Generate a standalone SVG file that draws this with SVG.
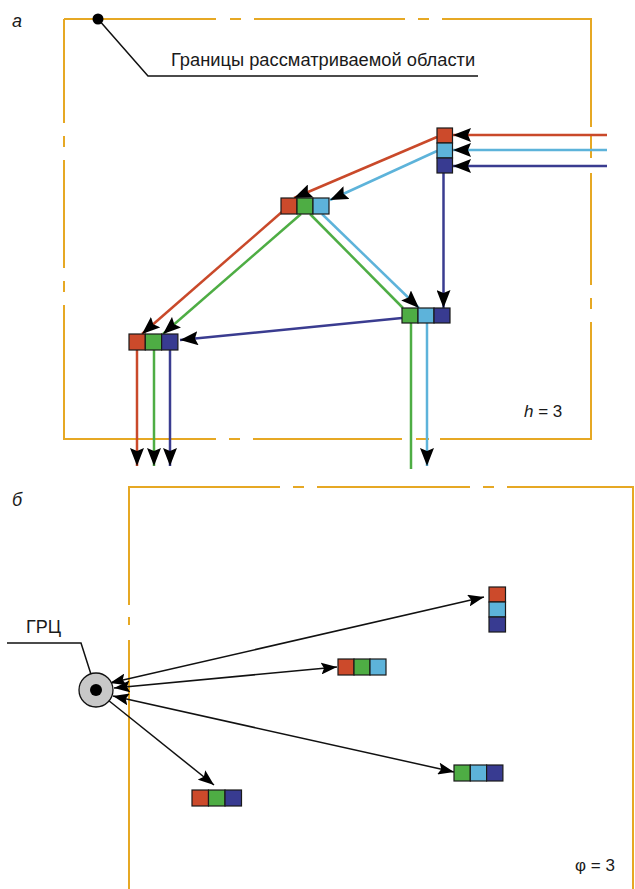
<svg xmlns="http://www.w3.org/2000/svg" width="635" height="889" viewBox="0 0 635 889">
<style>
.frame{fill:none;stroke:#E6A824;stroke-width:2}
.sq{stroke:#1a1a1a;stroke-width:1.2}
.r{fill:#CC4A2B}.g{fill:#4EAD44}.lb{fill:#5DB3DA}.db{fill:#383B91}
.ln{fill:none;stroke-width:2.5}
.lr{stroke:#C9492A}.lg{stroke:#4EAD44}.llb{stroke:#5DB3DA}.ldb{stroke:#3A3C90}
.bk{fill:none;stroke:#111;stroke-width:1.5}
.t{font-family:"Liberation Sans",Arial,sans-serif;fill:#1a1a1a}
</style>
<defs>
<marker id="ah" viewBox="0 0 18 14" refX="18" refY="7" markerWidth="18" markerHeight="14" markerUnits="userSpaceOnUse" orient="auto">
<path d="M0,0 L18,7 L0,14 L3,7 z" fill="#000"/>
</marker>
<marker id="ah2" viewBox="0 0 16 12" refX="16" refY="6" markerWidth="16" markerHeight="12" markerUnits="userSpaceOnUse" orient="auto-start-reverse">
<path d="M0,0 L16,6 L0,12 L3,6 z" fill="#000"/>
</marker>
</defs>

<g id="frame-a">
<path class="frame" d="M64,19 H216 M230,19 H241 M254,19 H405 M418,19 H429 M442,19 H591 V127 M591,135 V158 M591,173 V285 M591,298 V309 M591,322 V439 H440 M429,439 H416 M402,439 H253 M240,439 H229 M216,439 H64 V305 M64,292 V281 M64,268 V160 M64,147 V136 M64,123 V19"/>
</g>
<g id="frame-b">
<path class="frame" d="M129,889 V640 M129,625 V617 M129,605 V487 H280 M293,487 H304 M317,487 H470 M483,487 H494 M507,487 H633 V889"/>
</g>

<g id="labels">
<text class="t" x="12" y="27" font-size="18" font-style="italic">а</text>
<text class="t" x="12" y="506" font-size="18" font-style="italic">б</text>
<text class="t" x="171" y="66" font-size="18.3">Границы рассматриваемой области</text>
<text class="t" x="524" y="417" font-size="17"><tspan font-style="italic">h</tspan> = 3</text>
<text class="t" x="575" y="871" font-size="17">φ = 3</text>
<text class="t" x="26" y="633" font-size="18">ГРЦ</text>
</g>

<g id="leaders">
<polyline class="bk" points="98,19 148,76 478,76" stroke-width="1.3"/>
<circle cx="98" cy="19" r="5.5" fill="#000"/>
<polyline class="bk" points="7,643 81,643 96,690" stroke-width="1.3"/>
</g>

<g id="connectors-a">
<line class="ln lr" x1="607" y1="135" x2="453" y2="135" marker-end="url(#ah)"/>
<line class="ln llb" x1="607" y1="150" x2="453" y2="150" marker-end="url(#ah)"/>
<line class="ln ldb" x1="607" y1="166" x2="453" y2="166" marker-end="url(#ah)"/>
<line class="ln lr" x1="437" y1="137" x2="294" y2="198" marker-end="url(#ah)"/>
<line class="ln llb" x1="437" y1="151" x2="330" y2="200" marker-end="url(#ah)"/>
<line class="ln lr" x1="283" y1="211" x2="142" y2="334" marker-end="url(#ah)"/>
<line class="ln lg" x1="301" y1="214" x2="163" y2="334" marker-end="url(#ah)"/>
<line class="ln lg" x1="310" y1="214" x2="403" y2="308"/>
<line class="ln llb" x1="322" y1="214" x2="419" y2="308" marker-end="url(#ah)"/>
<line class="ln ldb" x1="443.5" y1="173" x2="443.5" y2="308" marker-end="url(#ah)"/>
<line class="ln ldb" x1="402" y1="318" x2="180" y2="340" marker-end="url(#ah)"/>
<line class="ln lr" x1="137" y1="350" x2="137" y2="466" marker-end="url(#ah)"/>
<line class="ln lg" x1="154" y1="350" x2="154" y2="466" marker-end="url(#ah)"/>
<line class="ln ldb" x1="170" y1="350" x2="170" y2="466" marker-end="url(#ah)"/>
<line class="ln lg" x1="411" y1="323" x2="411" y2="469"/>
<line class="ln llb" x1="427" y1="323" x2="427" y2="466" marker-end="url(#ah)"/>
</g>

<g id="node-a1">
<rect class="sq r" x="437" y="128" width="15.5" height="15"/>
<rect class="sq lb" x="437" y="143" width="15.5" height="15"/>
<rect class="sq db" x="437" y="158" width="15.5" height="15"/>
</g>
<g id="node-a2">
<rect class="sq r" x="281" y="198" width="16" height="16"/>
<rect class="sq g" x="297" y="198" width="16" height="16"/>
<rect class="sq lb" x="313" y="198" width="16" height="16"/>
</g>
<g id="node-a3">
<rect class="sq g" x="402" y="308" width="16" height="15"/>
<rect class="sq lb" x="418" y="308" width="16" height="15"/>
<rect class="sq db" x="434" y="308" width="16" height="15"/>
</g>
<g id="node-a4">
<rect class="sq r" x="129" y="334" width="16.3" height="16"/>
<rect class="sq g" x="145.3" y="334" width="16.3" height="16"/>
<rect class="sq db" x="161.6" y="334" width="16.3" height="16"/>
</g>

<g id="connectors-b">
<line class="bk" x1="110" y1="683" x2="484" y2="597" marker-start="url(#ah2)" marker-end="url(#ah2)"/>
<line class="bk" x1="114" y1="688" x2="337" y2="667" marker-start="url(#ah2)" marker-end="url(#ah2)"/>
<line class="bk" x1="113" y1="696" x2="454" y2="772" marker-start="url(#ah2)" marker-end="url(#ah2)"/>
<line class="bk" x1="108" y1="700" x2="214" y2="785" marker-end="url(#ah2)"/>
</g>

<g id="node-grc">
<circle cx="96" cy="690" r="17" fill="#C8C8C8" stroke="#111" stroke-width="1.3"/>
<circle cx="96" cy="690" r="6" fill="#000"/>
</g>
<g id="node-b1">
<rect class="sq r" x="489" y="587" width="16.5" height="15"/>
<rect class="sq lb" x="489" y="602" width="16.5" height="15"/>
<rect class="sq db" x="489" y="617" width="16.5" height="15"/>
</g>
<g id="node-b2">
<rect class="sq r" x="338" y="659" width="16" height="16"/>
<rect class="sq g" x="354" y="659" width="16" height="16"/>
<rect class="sq lb" x="370" y="659" width="16" height="16"/>
</g>
<g id="node-b3">
<rect class="sq g" x="454" y="765" width="16.3" height="16"/>
<rect class="sq lb" x="470.3" y="765" width="16.3" height="16"/>
<rect class="sq db" x="486.6" y="765" width="16.3" height="16"/>
</g>
<g id="node-b4">
<rect class="sq r" x="192" y="790" width="16.5" height="16"/>
<rect class="sq g" x="208.5" y="790" width="16.5" height="16"/>
<rect class="sq db" x="225" y="790" width="16.5" height="16"/>
</g>
</svg>
